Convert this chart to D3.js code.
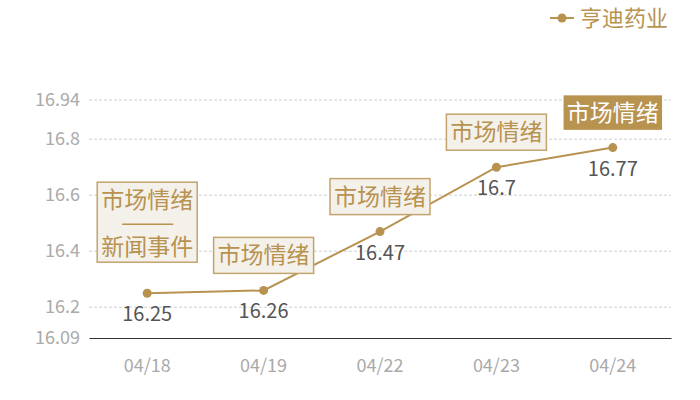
<!DOCTYPE html>
<html>
<head>
<meta charset="utf-8">
<script src="https://cdn.jsdelivr.net/npm/d3@7"></script>
<style>
  body { margin: 0; background: #fff; }
  text { font-family: "Noto Sans CJK SC", "Noto Sans", sans-serif; }
</style>
</head>
<body>
<svg id="chart" width="700" height="400"></svg>
<script>
var dates = ['04/18', '04/19', '04/22', '04/23', '04/24'];
var prices = [16.25, 16.26, 16.47, 16.7, 16.77];
var yTicks = [16.09, 16.2, 16.4, 16.6, 16.8, 16.94];
var notes = [['市场情绪', '新闻事件'], ['市场情绪'], ['市场情绪'], ['市场情绪'], ['市场情绪']];
var highlight = [false, false, false, false, true];
var seriesName = '亨迪药业';

var gold = '#b8924f';
var margin = { top: 100, right: 29, bottom: 62, left: 89 };
var width = 700 - margin.left - margin.right;
var height = 400 - margin.top - margin.bottom;

var svg = d3.select('#chart').append('g')
  .attr('transform', 'translate(' + margin.left + ', ' + margin.top + ')');

var xScale = d3.scaleBand()
  .domain(dates)
  .range([0, width]);
var yScale = d3.scaleLinear()
  .domain([16.09, 16.94])
  .range([height, 0]);

function cx(d, i) { return xScale(dates[i]) + xScale.bandwidth() / 2; }

// grid
svg.selectAll('.grid')
  .data(yTicks.slice(1))
  .enter()
  .append('line')
  .attr('x1', 0)
  .attr('x2', width)
  .attr('y1', function (d) { return yScale(d); })
  .attr('y2', function (d) { return yScale(d); })
  .attr('stroke', '#cfcfcf')
  .attr('stroke-dasharray', '3,2');

var yAxis = d3.axisLeft(yScale).tickValues(yTicks).tickSize(0).tickPadding(9)
  .tickFormat(function (d) { return d; });
var gy = svg.append('g').call(yAxis);
gy.select('.domain').remove();
gy.selectAll('text').attr('fill', '#aaa').attr('font-size', '18px');

var xAxis = d3.axisBottom(xScale).tickSize(0).tickPadding(21);
var gx = svg.append('g')
  .attr('transform', 'translate(0, ' + height + ')')
  .call(xAxis);
gx.select('.domain').attr('stroke', '#333').attr('stroke-width', 1.2);
gx.selectAll('text').attr('fill', '#aaa').attr('font-size', '18px');

// line
var line = d3.line()
  .x(function (d, i) { return cx(d, i); })
  .y(function (d) { return yScale(d); });
svg.append('path')
  .datum(prices)
  .attr('d', line)
  .attr('fill', 'none')
  .attr('stroke', gold)
  .attr('stroke-width', 2);

svg.selectAll('.dot')
  .data(prices)
  .enter()
  .append('circle')
  .attr('cx', cx)
  .attr('cy', function (d) { return yScale(d); })
  .attr('r', 4.5)
  .attr('fill', gold);

svg.selectAll('.val')
  .data(prices)
  .enter()
  .append('text')
  .attr('x', cx)
  .attr('y', function (d) { return yScale(d) + 28; })
  .attr('text-anchor', 'middle')
  .attr('font-size', '20px')
  .attr('fill', '#555')
  .text(function (d) { return d; });

// annotation boxes
var boxW = 100, lineH = 36;
var notesG = svg.selectAll('.note')
  .data(notes)
  .enter()
  .append('g')
  .attr('transform', function (d, i) {
    var h = d.length === 1 ? lineH : 80;
    var off = d.length === 1 ? 17 : 31;
    return 'translate(' + (cx(d, i) - boxW / 2) + ', ' + (yScale(prices[i]) - off - h) + ')';
  });

notesG.append('rect')
  .attr('width', boxW)
  .attr('height', function (d) { return d.length === 1 ? lineH : 80; })
  .attr('fill', function (d, i) { return highlight[i] ? gold : '#f4f0ea'; })
  .attr('stroke', function (d, i) { return highlight[i] ? '#fff' : '#c4a46e'; })
  .attr('stroke-width', 1.5);

notesG.filter(function (d) { return d.length > 1; })
  .append('line')
  .attr('x1', 25).attr('x2', 76)
  .attr('y1', 42).attr('y2', 42)
  .attr('stroke', gold)
  .attr('stroke-width', 1.5);

notesG.each(function (d, i) {
  var g = d3.select(this);
  d.forEach(function (t, j) {
    g.append('text')
      .attr('x', boxW / 2)
      .attr('y', j === 0 ? 26 : 73)
      .attr('text-anchor', 'middle')
      .attr('font-size', '23px')
      .attr('fill', highlight[i] ? '#fff' : gold)
      .text(t);
  });
});

// legend
var legend = d3.select('#chart').append('g')
  .attr('transform', 'translate(550, 18)');
legend.append('line')
  .attr('x1', 0).attr('x2', 24)
  .attr('stroke', gold).attr('stroke-width', 2);
legend.append('circle')
  .attr('cx', 12).attr('r', 4.5).attr('fill', gold);
legend.append('text')
  .attr('x', 30)
  .attr('dy', '0.36em')
  .attr('font-size', '22px')
  .attr('fill', gold)
  .text(seriesName);
</script>
</body>
</html>
